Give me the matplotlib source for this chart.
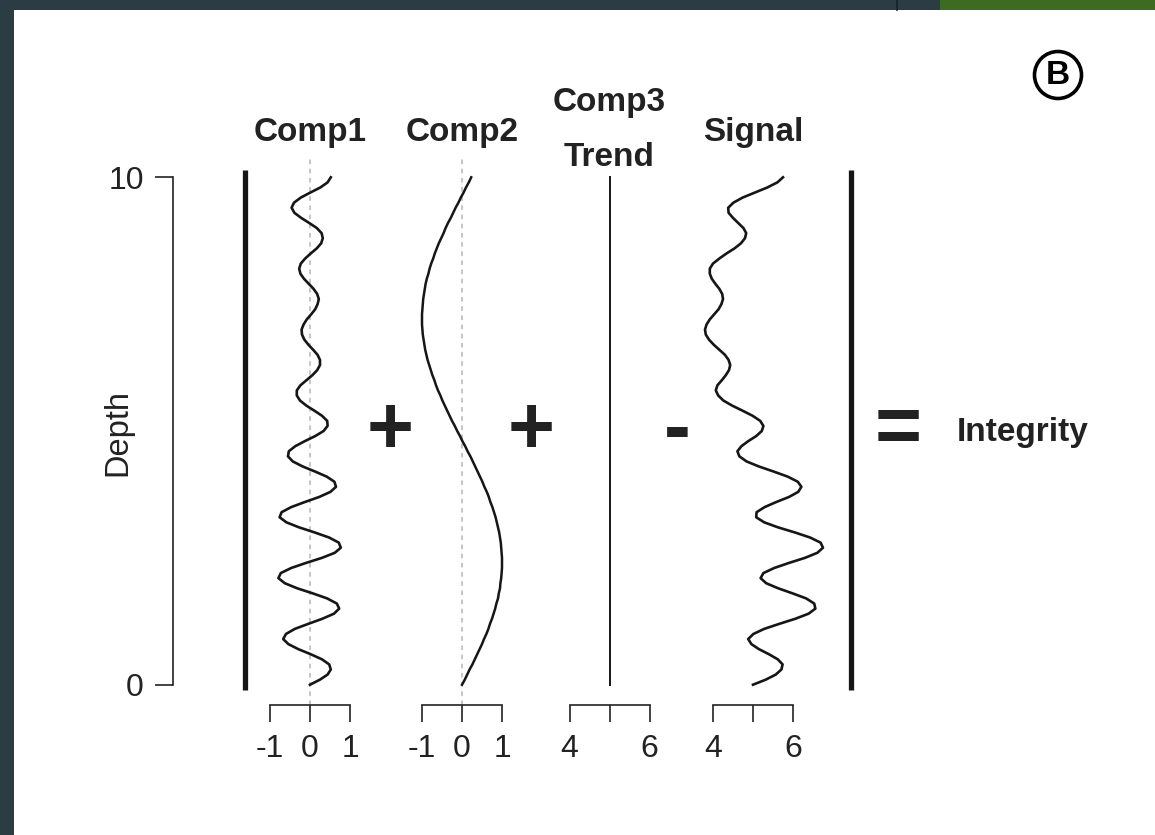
import matplotlib
matplotlib.use("Agg")
import matplotlib.pyplot as plt
from matplotlib.patches import Rectangle
from matplotlib.lines import Line2D

plt.rcParams['font.family'] = ['Liberation Sans', 'DejaVu Sans']

# ---------------- data ----------------
depth = [0.0, 0.1, 0.2, 0.3, 0.4, 0.5, 0.6, 0.7, 0.8, 0.9,
         1.0, 1.1, 1.2, 1.3, 1.4, 1.5, 1.6, 1.7, 1.8, 1.9,
         2.0, 2.1, 2.2, 2.3, 2.4, 2.5, 2.6, 2.7, 2.8, 2.9,
         3.0, 3.1, 3.2, 3.3, 3.4, 3.5, 3.6, 3.7, 3.8, 3.9,
         4.0, 4.1, 4.2, 4.3, 4.4, 4.5, 4.6, 4.7, 4.8, 4.9,
         5.0, 5.1, 5.2, 5.3, 5.4, 5.5, 5.6, 5.7, 5.8, 5.9,
         6.0, 6.1, 6.2, 6.3, 6.4, 6.5, 6.6, 6.7, 6.8, 6.9,
         7.0, 7.1, 7.2, 7.3, 7.4, 7.5, 7.6, 7.7, 7.8, 7.9,
         8.0, 8.1, 8.2, 8.3, 8.4, 8.5, 8.6, 8.7, 8.8, 8.9,
         9.0, 9.1, 9.2, 9.3, 9.4, 9.5, 9.6, 9.7, 9.8, 9.9, 10.0]

comp1 = [0.00, 0.25, 0.44, 0.52, 0.48, 0.30, 0.02, -0.29, -0.54, -0.67,
         -0.60, -0.38, -0.04, 0.31, 0.60, 0.73, 0.67, 0.43, 0.07, -0.32,
         -0.63, -0.79, -0.73, -0.47, -0.10, 0.30, 0.62, 0.77, 0.72, 0.48,
         0.12, -0.27, -0.59, -0.76, -0.71, -0.47, -0.13, 0.23, 0.51, 0.65,
         0.61, 0.42, 0.13, -0.18, -0.43, -0.55, -0.53, -0.37, -0.13, 0.13,
         0.34, 0.44, 0.43, 0.30, 0.11, -0.09, -0.25, -0.33, -0.33, -0.24,
         -0.09, 0.06, 0.18, 0.25, 0.25, 0.19, 0.08, -0.04, -0.14, -0.20,
         -0.21, -0.16, -0.08, 0.03, 0.13, 0.19, 0.22, 0.18, 0.09, -0.03,
         -0.15, -0.24, -0.27, -0.23, -0.12, 0.02, 0.17, 0.28, 0.32, 0.29,
         0.17, -0.02, -0.22, -0.39, -0.46, -0.40, -0.23, 0.01, 0.26, 0.44, 0.52]

comp2 = [0.00, 0.07, 0.13, 0.19, 0.26, 0.32, 0.38, 0.44, 0.50, 0.55,
         0.61, 0.66, 0.70, 0.75, 0.79, 0.83, 0.86, 0.90, 0.92, 0.95,
         0.96, 0.98, 0.99, 1.00, 1.00, 1.00, 0.99, 0.98, 0.97, 0.95,
         0.93, 0.90, 0.87, 0.84, 0.80, 0.76, 0.71, 0.67, 0.62, 0.56,
         0.51, 0.45, 0.39, 0.33, 0.27, 0.21, 0.14, 0.08, 0.01, -0.05,
         -0.12, -0.18, -0.25, -0.31, -0.37, -0.43, -0.49, -0.54, -0.60, -0.65,
         -0.69, -0.74, -0.78, -0.82, -0.86, -0.89, -0.92, -0.94, -0.96, -0.98,
         -0.99, -1.00, -1.00, -1.00, -0.99, -0.98, -0.97, -0.95, -0.93, -0.91,
         -0.88, -0.84, -0.81, -0.77, -0.72, -0.68, -0.63, -0.58, -0.52, -0.46,
         -0.41, -0.35, -0.28, -0.22, -0.16, -0.09, -0.03, 0.04, 0.10, 0.17, 0.23]

trend_depth = [0.0, 10.0]
trend = [5.0, 5.0]

signal = [5.00, 5.32, 5.57, 5.71, 5.74, 5.62, 5.40, 5.15, 4.96, 4.88,
          5.01, 5.28, 5.66, 6.06, 6.39, 6.56, 6.53, 6.33, 5.99, 5.63,
          5.33, 5.19, 5.26, 5.53, 5.90, 6.30, 6.61, 6.75, 6.69, 6.43,
          6.05, 5.63, 5.28, 5.08, 5.09, 5.29, 5.58, 5.90, 6.13, 6.21,
          6.12, 5.87, 5.52, 5.15, 4.84, 4.66, 4.61, 4.71, 4.88, 5.08,
          5.22, 5.26, 5.18, 4.99, 4.74, 4.48, 4.26, 4.13, 4.07, 4.11,
          4.22, 4.32, 4.40, 4.43, 4.39, 4.30, 4.16, 4.02, 3.90, 3.82,
          3.80, 3.84, 3.92, 4.03, 4.14, 4.21, 4.25, 4.23, 4.16, 4.06,
          3.97, 3.92, 3.92, 4.00, 4.16, 4.34, 4.54, 4.70, 4.80, 4.83,
          4.76, 4.63, 4.50, 4.39, 4.38, 4.51, 4.74, 5.05, 5.36, 5.61, 5.75]

depth_ticks = [0, 10]
comp_ticks = [-1, 0, 1]
comp_ticklabels = ["-1", "0", "1"]
level_ticks = [4, 5, 6]
level_ticklabels = ["4", "", "6"]
operators = ["+", "+", "-", "="]
depth_label = "Depth"
result_label = "Integrity"
panel_letter = "B"

# ---------------- layout ----------------
W, H = 1155, 835
fig = plt.figure(figsize=(W / 100, H / 100), dpi=100)
fig.patch.set_facecolor("white")


def fx(x):
    return x / W


def fy(y):
    return 1 - y / H


# slide frame decoration
fig.add_artist(Rectangle((0, 0), fx(14), 1, transform=fig.transFigure,
                         facecolor="#2b3c45", edgecolor="none", zorder=0))
fig.add_artist(Rectangle((0, fy(10)), 1, 10 / H, transform=fig.transFigure,
                         facecolor="#2b3c45", edgecolor="none", zorder=0))
fig.add_artist(Rectangle((fx(940), fy(10)), (W - 940) / W, 10 / H,
                         transform=fig.transFigure,
                         facecolor="#3d6b22", edgecolor="none", zorder=1))
fig.add_artist(Line2D([fx(897), fx(897)], [fy(0), fy(10)],
                      transform=fig.transFigure, color="#15222a", lw=1.2))

INK = "#161616"
TXT = "#222222"
Y_TOP, Y_BOT = 157, 705
YLIM = (-0.4, 10.4)
PX_PER_UNIT = 40
HALF = 1.8
TICK_FS = 23


def panel(cx, centre):
    left = cx - HALF * PX_PER_UNIT
    ax = fig.add_axes([fx(left), fy(Y_BOT), 2 * HALF * PX_PER_UNIT / W,
                       (Y_BOT - Y_TOP) / H])
    ax.set_xlim(centre - HALF, centre + HALF)
    ax.set_ylim(*YLIM)
    ax.patch.set_alpha(0)
    for s in ["top", "right", "left"]:
        ax.spines[s].set_visible(False)
    ax.spines["bottom"].set_linewidth(1.2)
    ax.spines["bottom"].set_color(TXT)
    ax.tick_params(axis="x", direction="out", length=12, width=1.2,
                   color=TXT, pad=9, labelsize=TICK_FS, labelcolor=TXT)
    ax.set_yticks([])
    return ax


# Comp1
ax1 = panel(310, 0)
ax1.axvline(0, color="#b5b5b5", lw=1.1, ls=(0, (3, 3)), zorder=1)
ax1.plot(comp1, depth, color=INK, lw=1.9, zorder=2)
ax1.set_xticks(comp_ticks)
ax1.set_xticklabels(comp_ticklabels)
ax1.spines["bottom"].set_bounds(comp_ticks[0], comp_ticks[-1])

# Comp2
ax2 = panel(462, 0)
ax2.axvline(0, color="#b5b5b5", lw=1.1, ls=(0, (3, 3)), zorder=1)
ax2.plot(comp2, depth, color=INK, lw=1.8, zorder=2)
ax2.set_xticks(comp_ticks)
ax2.set_xticklabels(comp_ticklabels)
ax2.spines["bottom"].set_bounds(comp_ticks[0], comp_ticks[-1])

# Comp3 / Trend
ax3 = panel(609.5, 5)
ax3.plot(trend, trend_depth, color=INK, lw=1.4)
ax3.set_xticks(level_ticks)
ax3.set_xticklabels(level_ticklabels)
ax3.spines["bottom"].set_bounds(level_ticks[0], level_ticks[-1])

# Signal
ax4 = panel(753, 5)
ax4.plot(signal, depth, color=INK, lw=1.9)
ax4.set_xticks(level_ticks)
ax4.set_xticklabels(level_ticklabels)
ax4.spines["bottom"].set_bounds(level_ticks[0], level_ticks[-1])

# Depth axis
axd = fig.add_axes([fx(173), fy(Y_BOT), 10 / W, (Y_BOT - Y_TOP) / H])
axd.set_ylim(*YLIM)
axd.set_xlim(0, 1)
axd.patch.set_alpha(0)
for s in ["top", "right", "bottom"]:
    axd.spines[s].set_visible(False)
axd.spines["left"].set_bounds(depth_ticks[0], depth_ticks[-1])
axd.spines["left"].set_linewidth(1.2)
axd.spines["left"].set_color(TXT)
axd.set_xticks([])
axd.set_yticks(depth_ticks)
axd.set_yticklabels([str(t) for t in depth_ticks])
axd.tick_params(axis="y", direction="out", length=13, width=1.2,
                color=TXT, pad=8, labelsize=TICK_FS, labelcolor=TXT)
fig.text(fx(118), fy(432), depth_label, rotation=90, ha="center",
         va="center", fontsize=23.5, color=TXT)

# big bracket bars
for xb in (245, 851):
    fig.add_artist(Line2D([fx(xb), fx(xb)], [fy(170), fy(690)],
                          transform=fig.transFigure, color=INK, lw=3.8,
                          solid_capstyle="butt"))

# titles
TITLE_FS = 24
fig.text(fx(310), fy(132), "Comp1", ha="center", va="center",
         fontsize=TITLE_FS, fontweight="bold", color=TXT)
fig.text(fx(462), fy(132), "Comp2", ha="center", va="center",
         fontsize=TITLE_FS, fontweight="bold", color=TXT)
fig.text(fx(609), fy(103), "Comp3", ha="center", va="center",
         fontsize=TITLE_FS, fontweight="bold", color=TXT)
fig.text(fx(609), fy(157), "Trend", ha="center", va="center",
         fontsize=TITLE_FS, fontweight="bold", color=TXT)
fig.text(fx(753), fy(132), "Signal", ha="center", va="center",
         fontsize=TITLE_FS, fontweight="bold", color=TXT)

# operators
for xo, op in zip((390, 531, 677, 898), operators):
    fig.text(fx(xo), fy(432), op, ha="center", va="center",
             fontsize=58, fontweight="bold", color=TXT)

fig.text(fx(1023), fy(432), result_label, ha="center", va="center",
         fontsize=TITLE_FS, fontweight="bold", color=TXT)

# panel letter
fig.text(fx(1058), fy(75), panel_letter, ha="center", va="center",
         fontsize=TITLE_FS, fontweight="bold", color="black",
         bbox=dict(boxstyle="circle,pad=0.24", fc="none", ec="black", lw=2.6))

fig.savefig("out.png", dpi=100, facecolor=fig.get_facecolor())
